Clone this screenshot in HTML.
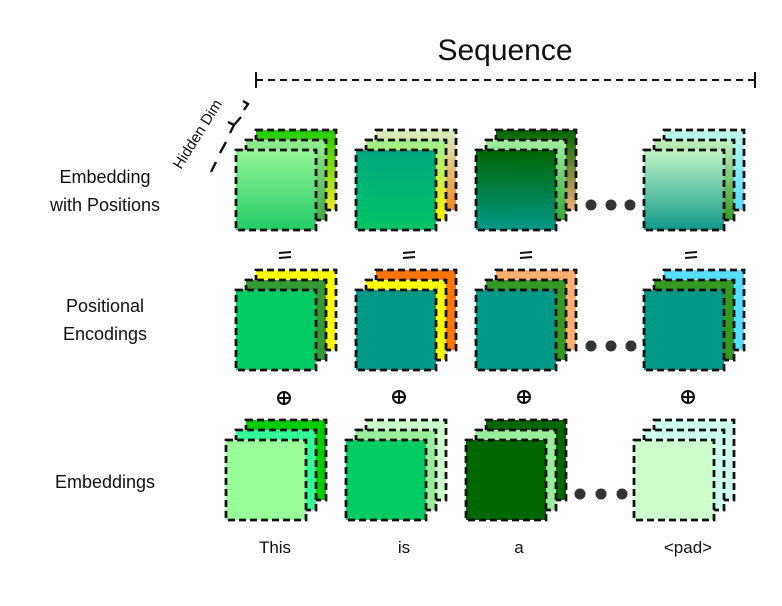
<!DOCTYPE html>
<html><head><meta charset="utf-8"><style>
html,body{margin:0;padding:0;background:#fff;width:782px;height:606px;overflow:hidden}
svg{display:block}
text{font-family:"Liberation Sans",sans-serif;fill:#111}
.s rect{stroke:#111;stroke-width:2.8;stroke-dasharray:7 4}
</style></head><body>
<svg width="782" height="606" viewBox="0 0 782 606" xmlns="http://www.w3.org/2000/svg">
<defs>
<linearGradient id="a1" x1="0" y1="0" x2="0" y2="1"><stop offset="0" stop-color="#22cc00"/><stop offset="1" stop-color="#eeee22"/></linearGradient>
<linearGradient id="a2" x1="0" y1="0" x2="0" y2="1"><stop offset="0" stop-color="#90ee90"/><stop offset="1" stop-color="#44aa44"/></linearGradient>
<linearGradient id="a3" x1="0" y1="0" x2="0" y2="1"><stop offset="0" stop-color="#95f595"/><stop offset="1" stop-color="#22cc66"/></linearGradient>
<linearGradient id="b1" x1="0" y1="0" x2="0" y2="1"><stop offset="0" stop-color="#d8f0c0"/><stop offset="1" stop-color="#f08a20"/></linearGradient>
<linearGradient id="b2" x1="0" y1="0" x2="0" y2="1"><stop offset="0" stop-color="#a0f090"/><stop offset="1" stop-color="#ffee00"/></linearGradient>
<linearGradient id="b3" x1="0" y1="0" x2="0" y2="1"><stop offset="0" stop-color="#00a880"/><stop offset="1" stop-color="#00c466"/></linearGradient>
<linearGradient id="c1" x1="0" y1="0" x2="0" y2="1"><stop offset="0" stop-color="#006600"/><stop offset="1" stop-color="#f0b070"/></linearGradient>
<linearGradient id="c2" x1="0" y1="0" x2="0" y2="1"><stop offset="0" stop-color="#a0f0a0"/><stop offset="1" stop-color="#33aa33"/></linearGradient>
<linearGradient id="c3" x1="0" y1="0" x2="0" y2="1"><stop offset="0" stop-color="#006600"/><stop offset="1" stop-color="#009988"/></linearGradient>
<linearGradient id="d1" x1="0" y1="0" x2="0" y2="1"><stop offset="0" stop-color="#c0f8e8"/><stop offset="1" stop-color="#55ddff"/></linearGradient>
<linearGradient id="d2" x1="0" y1="0" x2="0" y2="1"><stop offset="0" stop-color="#c0f0c0"/><stop offset="1" stop-color="#339922"/></linearGradient>
<linearGradient id="d3" x1="0" y1="0" x2="0" y2="1"><stop offset="0" stop-color="#c0f5c8"/><stop offset="1" stop-color="#119988"/></linearGradient>
</defs>

<text x="505" y="60" font-size="30" text-anchor="middle">Sequence</text>
<g stroke="#111" stroke-width="2" fill="none">
<line x1="256" y1="80" x2="755" y2="80" stroke-dasharray="7 5"/>
<line x1="256" y1="72" x2="256" y2="88"/><line x1="755" y1="72" x2="755" y2="88"/>
<path d="M211 172 L216 162 M220 153 L226 142 M230 133 L234 125 M234 125 L228 122 M234 125 L241 117 M244 110 L248 104 L243 101" stroke-width="2.4"/>
</g>
<text x="0" y="0" font-size="15" transform="translate(181,170) rotate(-58)">Hidden Dim</text>

<text x="105" y="183" font-size="18" text-anchor="middle">Embedding</text>
<text x="105" y="211" font-size="18" text-anchor="middle">with Positions</text>
<text x="105" y="312" font-size="18" text-anchor="middle">Positional</text>
<text x="105" y="340" font-size="18" text-anchor="middle">Encodings</text>
<text x="105" y="488" font-size="18" text-anchor="middle">Embeddings</text>

<!-- Row 1 -->
<g class="s" transform="translate(236,150)"><rect x="20" y="-20" width="80" height="80" fill="url(#a1)"/><rect x="10" y="-10" width="80" height="80" fill="url(#a2)"/><rect width="80" height="80" fill="url(#a3)"/></g>
<g class="s" transform="translate(356,150)"><rect x="20" y="-20" width="80" height="80" fill="url(#b1)"/><rect x="10" y="-10" width="80" height="80" fill="url(#b2)"/><rect width="80" height="80" fill="url(#b3)"/></g>
<g class="s" transform="translate(476,150)"><rect x="20" y="-20" width="80" height="80" fill="url(#c1)"/><rect x="10" y="-10" width="80" height="80" fill="url(#c2)"/><rect width="80" height="80" fill="url(#c3)"/></g>
<g class="s" transform="translate(644,150)"><rect x="20" y="-20" width="80" height="80" fill="url(#d1)"/><rect x="10" y="-10" width="80" height="80" fill="url(#d2)"/><rect width="80" height="80" fill="url(#d3)"/></g>

<!-- Row 2 -->
<g class="s" transform="translate(236,290)"><rect x="20" y="-20" width="80" height="80" fill="#ffff00"/><rect x="10" y="-10" width="80" height="80" fill="#339933"/><rect width="80" height="80" fill="#00cc66"/></g>
<g class="s" transform="translate(356,290)"><rect x="20" y="-20" width="80" height="80" fill="#ff7700"/><rect x="10" y="-10" width="80" height="80" fill="#ffff00"/><rect width="80" height="80" fill="#009988"/></g>
<g class="s" transform="translate(476,290)"><rect x="20" y="-20" width="80" height="80" fill="#ffb070"/><rect x="10" y="-10" width="80" height="80" fill="#339922"/><rect width="80" height="80" fill="#009988"/></g>
<g class="s" transform="translate(644,290)"><rect x="20" y="-20" width="80" height="80" fill="#55e0ff"/><rect x="10" y="-10" width="80" height="80" fill="#339922"/><rect width="80" height="80" fill="#009988"/></g>

<!-- Row 3 -->
<g class="s" transform="translate(226,440)"><rect x="20" y="-20" width="80" height="80" fill="#00cc00"/><rect x="10" y="-10" width="80" height="80" fill="#33ff99"/><rect width="80" height="80" fill="#99ff99"/></g>
<g class="s" transform="translate(346,440)"><rect x="20" y="-20" width="80" height="80" fill="#ccffcc"/><rect x="10" y="-10" width="80" height="80" fill="#99ee99"/><rect width="80" height="80" fill="#00cc66"/></g>
<g class="s" transform="translate(466,440)"><rect x="20" y="-20" width="80" height="80" fill="#006600"/><rect x="10" y="-10" width="80" height="80" fill="#99ee99"/><rect width="80" height="80" fill="#006600"/></g>
<g class="s" transform="translate(634,440)"><rect x="20" y="-20" width="80" height="80" fill="#ccffee"/><rect x="10" y="-10" width="80" height="80" fill="#ccffee"/><rect width="80" height="80" fill="#ccffcc"/></g>

<!-- dots -->
<g fill="#333">
<circle cx="591" cy="205" r="5.5"/><circle cx="611" cy="205" r="5.5"/><circle cx="630" cy="205" r="5.5"/>
<circle cx="591" cy="346" r="5.5"/><circle cx="611" cy="346" r="5.5"/><circle cx="631" cy="346" r="5.5"/>
<circle cx="580" cy="494" r="5.5"/><circle cx="601" cy="494" r="5.5"/><circle cx="622" cy="494" r="5.5"/>
</g>

<!-- equals -->
<g stroke="#111" stroke-width="2">
<line x1="279" y1="253" x2="291" y2="252"/><line x1="279" y1="258" x2="291" y2="257"/>
<line x1="403" y1="253" x2="415" y2="252"/><line x1="403" y1="258" x2="415" y2="257"/>
<line x1="520" y1="253" x2="532" y2="252"/><line x1="520" y1="258" x2="532" y2="257"/>
<line x1="685" y1="253" x2="697" y2="252"/><line x1="685" y1="258" x2="697" y2="257"/>
</g>
<!-- plus circles -->
<g stroke="#111" stroke-width="2" fill="none">
<circle cx="284" cy="398" r="6"/><line x1="278" y1="398" x2="290" y2="398"/><line x1="284" y1="392" x2="284" y2="404"/>
<circle cx="399" cy="397" r="6"/><line x1="393" y1="397" x2="405" y2="397"/><line x1="399" y1="391" x2="399" y2="403"/>
<circle cx="524" cy="397" r="6"/><line x1="518" y1="397" x2="530" y2="397"/><line x1="524" y1="391" x2="524" y2="403"/>
<circle cx="688" cy="397" r="6"/><line x1="682" y1="397" x2="694" y2="397"/><line x1="688" y1="391" x2="688" y2="403"/>
</g>

<text x="275" y="553" font-size="17" text-anchor="middle">This</text>
<text x="404" y="553" font-size="17" text-anchor="middle">is</text>
<text x="519" y="553" font-size="17" text-anchor="middle">a</text>
<text x="688" y="553" font-size="17" text-anchor="middle">&lt;pad&gt;</text>
</svg>
</body></html>
